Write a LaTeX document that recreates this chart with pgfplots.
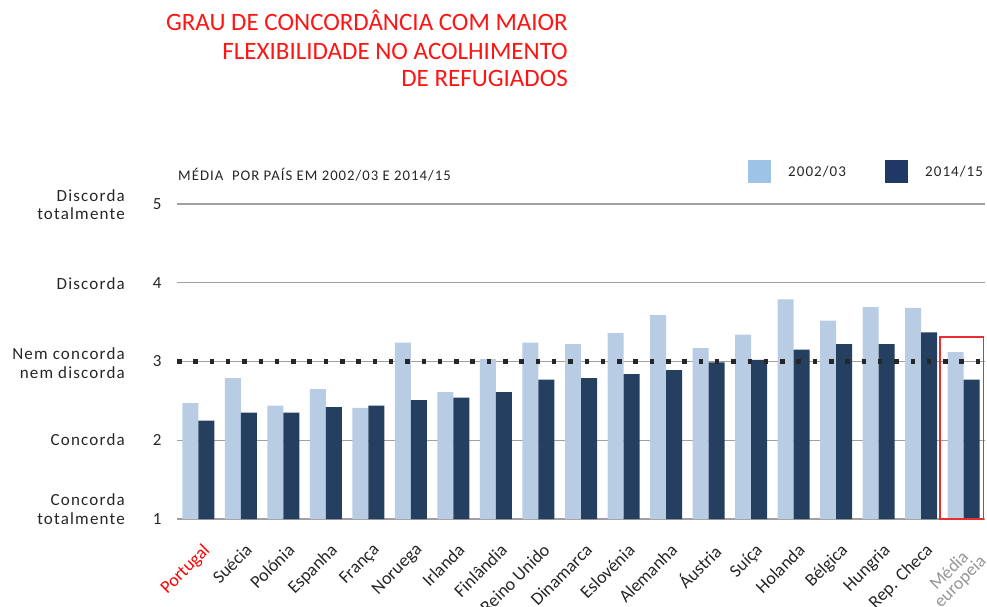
\documentclass[border=0pt]{standalone}
\usepackage{pgfplots}
\pgfplotsset{compat=1.18}
\usepackage{fontspec}
\setmainfont{Carlito}
\newfontfamily\spaced{Carlito}[LetterSpace=7]
\definecolor{barlight}{RGB}{184,204,228}
\definecolor{bardark}{RGB}{36,63,96}
\definecolor{leglight}{RGB}{157,195,230}
\definecolor{legdark}{RGB}{31,56,100}
\definecolor{txt}{RGB}{38,38,38}
\definecolor{gridc}{RGB}{160,160,160}
\definecolor{titlered}{RGB}{255,20,20}
\definecolor{boxred}{RGB}{235,45,45}
\definecolor{labgray}{RGB}{150,150,150}
\begin{document}
\begin{tikzpicture}
\path[use as bounding box] (0pt,0pt) rectangle (987pt,607pt);
% title
\node[anchor=base east, inner sep=0pt, text=titlered, font=\fontsize{25}{29}\selectfont] at (568pt,576pt) {GRAU DE CONCORDÂNCIA COM MAIOR};
\node[anchor=base east, inner sep=0pt, text=titlered, font=\fontsize{25}{29}\selectfont] at (568pt,547.7pt) {FLEXIBILIDADE NO ACOLHIMENTO};
\node[anchor=base east, inner sep=0pt, text=titlered, font=\fontsize{25}{29}\selectfont] at (568pt,520pt) {DE REFUGIADOS};
% subtitle
\node[anchor=base west, inner sep=0pt, text=txt, font=\spaced\fontsize{14.7}{17}\selectfont] at (178pt,426pt) {MÉDIA\ \ POR PAÍS EM 2002/03 E 2014/15};
\begin{axis}[
  at={(177pt,88pt)}, anchor=south west,
  scale only axis, width=808pt, height=315pt,
  xmin=-0.5, xmax=18.5, ymin=1, ymax=5,
  axis line style={draw=none},
  tick style={draw=none},
  ytick={1,2,3,4,5},
  ymajorgrids, grid style={gridc, line width=1.3pt},
  /pgf/number format/assume math mode=true,
  yticklabel style={font=\fontsize{17}{18}\selectfont, text=txt, xshift=-12pt},
  xtick={0,...,18},
  xticklabels={{\textcolor{red}{Portugal}},Suécia,Polónia,Espanha,França,Noruega,Irlanda,Finlândia,Reino Unido,Dinamarca,Eslovénia,Alemanha,Áustria,Suíça,Holanda,Bélgica,Hungria,Rep. Checa,{\textcolor{labgray}{\shortstack{Média\\europeia}}}},
  xticklabel style={font=\fontsize{18}{17}\selectfont, text=txt, rotate=45, anchor=north east, inner sep=0pt, xshift=-14pt, yshift=-19pt},
]
\addplot[ybar, bar width=16pt, bar shift=-8pt, fill=barlight, draw=none] coordinates {
(0,2.47) (1,2.79) (2,2.44) (3,2.65) (4,2.41) (5,3.24) (6,2.61) (7,3.03) (8,3.24) (9,3.22)
(10,3.36) (11,3.59) (12,3.17) (13,3.34) (14,3.79) (15,3.52) (16,3.69) (17,3.68) (18,3.12)};
\addplot[ybar, bar width=16pt, bar shift=8pt, fill=bardark, draw=none] coordinates {
(0,2.25) (1,2.35) (2,2.35) (3,2.42) (4,2.44) (5,2.51) (6,2.54) (7,2.61) (8,2.77) (9,2.79)
(10,2.84) (11,2.89) (12,2.99) (13,3.02) (14,3.15) (15,3.22) (16,3.22) (17,3.37) (18,2.77)};
\addplot[black!85, line width=4.5pt, dash pattern=on 4.5pt off 11.8pt] coordinates {(-0.5,3) (18.5,3)};
\draw[boxred, line width=1.2pt] (axis cs:17.44,1) rectangle (axis cs:18.47,3.31);
\end{axis}
% legend
\fill[leglight] (748pt,424pt) rectangle (771pt,447pt);
\node[anchor=base west, inner sep=0pt, text=txt, font=\spaced\fontsize{15}{17}\selectfont] at (788pt,430pt) {2002/03};
\fill[legdark] (885pt,424pt) rectangle (908pt,447pt);
\node[anchor=base west, inner sep=0pt, text=txt, font=\spaced\fontsize{15}{17}\selectfont] at (925pt,430pt) {2014/15};
% y category texts
\node[anchor=east, align=right, inner sep=0pt, text=txt, font=\spaced\fontsize{17}{18.5}\selectfont] at (125pt,402.5pt) {Discorda\\totalmente};
\node[anchor=east, align=right, inner sep=0pt, text=txt, font=\spaced\fontsize{17}{18.5}\selectfont] at (125pt,323pt) {Discorda};
\node[anchor=east, align=right, inner sep=0pt, text=txt, font=\spaced\fontsize{17}{18.5}\selectfont] at (125pt,244pt) {Nem concorda\\nem discorda};
\node[anchor=east, align=right, inner sep=0pt, text=txt, font=\spaced\fontsize{17}{18.5}\selectfont] at (125pt,167pt) {Concorda};
\node[anchor=east, align=right, inner sep=0pt, text=txt, font=\spaced\fontsize{17}{18.5}\selectfont] at (125pt,98pt) {Concorda\\totalmente};
\end{tikzpicture}
\end{document}
